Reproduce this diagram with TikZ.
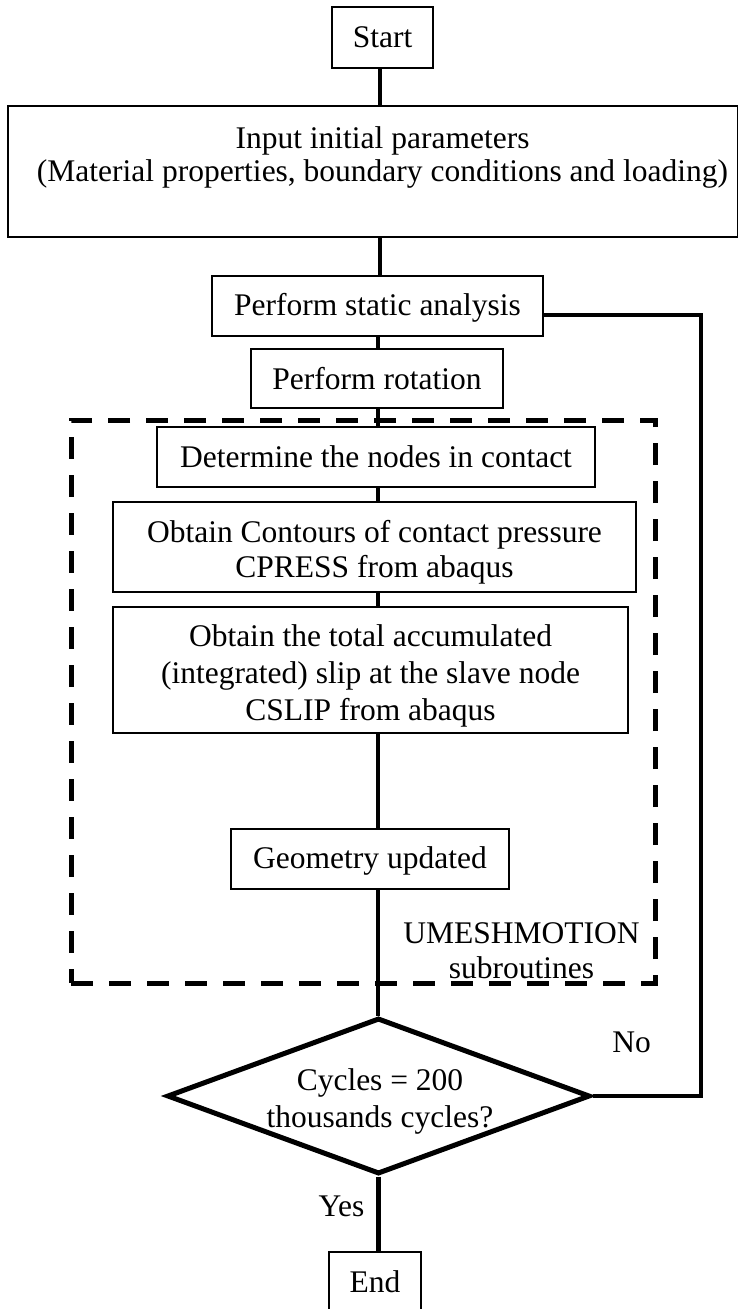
\documentclass[tikz,border=0pt]{standalone}
\usepackage{fontspec}
\setmainfont{Liberation Serif}
\usetikzlibrary{shapes.geometric}
\newcommand{\diagfont}{\fontsize{31.5}{36}\selectfont}
\begin{document}
\begin{tikzpicture}[x=1pt,y=-1pt,font=\diagfont,
  box/.style={draw=black, line width=1.3pt, rectangle, inner sep=0pt, align=center},
  txt/.style={align=center, inner sep=0pt},
  dashbox/.style={draw=black, line width=5pt, dash pattern=on 22pt off 16pt, rectangle, inner sep=0pt},
  dia/.style={diamond, draw=black, line width=5pt, minimum width=423pt, minimum height=156pt, inner sep=0pt, aspect=2.71, line join=miter},
  conn/.style={draw=black, line width=4.5pt},
  connthin/.style={draw=black, line width=3.5pt},
  fb/.style={draw=black, line width=3.5pt, line join=miter}]
\useasboundingbox (0,0) rectangle (739,1309);
% spine coordinates
\coordinate (sp0) at (380,0);
\coordinate (sp) at (378,0);
\coordinate (fbtop) at (701,315);
\coordinate (fbbot) at (701,1096);
% nodes
\node[box, minimum width=101pt, minimum height=61pt] (start) at (382.5,37.5) {Start};
\node[box, minimum width=729.5pt, minimum height=131pt] (inp) at (372.75,171.5) {};
\node[txt, font=\fontsize{31.5}{33.7}\selectfont] (inptxt) at (382.5,157.5) {Input initial parameters\\(Material properties, boundary conditions and loading)};
\node[box, minimum width=331pt, minimum height=60pt] (stat) at (377.5,306) {};
\node[txt] (stattxt) at (377.5,307.5) {Perform static analysis};
\node[box, minimum width=252pt, minimum height=59pt] (rot) at (377,378.5) {Perform rotation};
\node[dashbox, minimum width=584pt, minimum height=563pt] (sub) at (363,701.5) {};
\node[box, minimum width=438pt, minimum height=60pt] (det) at (376,457) {Determine the nodes in contact};
\node[box, minimum width=523pt, minimum height=90pt] (cont) at (374.5,547) {};
\node[txt, font=\fontsize{31.5}{35}\selectfont] (conttxt) at (374.5,552) {Obtain Contours of contact pressure\\CPRESS from abaqus};
\node[box, minimum width=515pt, minimum height=126pt] (slip) at (370.5,670) {};
\node[txt, font=\fontsize{31.5}{36.7}\selectfont] (sliptxt) at (370.5,676) {Obtain the total accumulated\\(integrated) slip at the slave node\\CSLIP from abaqus};
\node[box, minimum width=278pt, minimum height=60pt] (geo) at (370,859) {};
\node[txt] (geotxt) at (370,860.5) {Geometry updated};
\node[txt, font=\fontsize{31.5}{35}\selectfont] (umesh) at (521.5,951) {UMESHMOTION\\subroutines};
\node[dia] (dec) at (378.5,1096) {};
\node[txt, font=\fontsize{31.5}{36.7}\selectfont] (dectxt) at (380,1101.5) {Cycles = 200\\thousands cycles?};
\node[txt] (no) at (631.5,1042.5) {No};
\node[txt] (yes) at (341.5,1206.5) {Yes};
\node[box, minimum width=92pt, minimum height=60pt] (end) at (375,1282) {End};
% connectors
\draw[conn] (start.south -| sp0) -- (inp.north -| sp0);
\draw[conn] (inp.south -| sp0) -- (stat.north -| sp0);
\draw[conn] (stat.south -| sp) -- (rot.north -| sp);
\draw[conn] (rot.south -| sp) -- (det.north -| sp);
\draw[connthin] (det.south -| sp) -- (cont.north -| sp);
\draw[connthin] (cont.south -| sp) -- (slip.north -| sp);
\draw[connthin] (slip.south -| sp) -- (geo.north -| sp);
\draw[connthin] (geo.south -| sp) -- (dec.north -| sp);
\draw[conn] (dec.south) -- (end.north -| dec.south);
\draw[fb] (stat.east |- fbtop) -- (fbtop) -- (fbbot) -- (dec.east);
\end{tikzpicture}
\end{document}
